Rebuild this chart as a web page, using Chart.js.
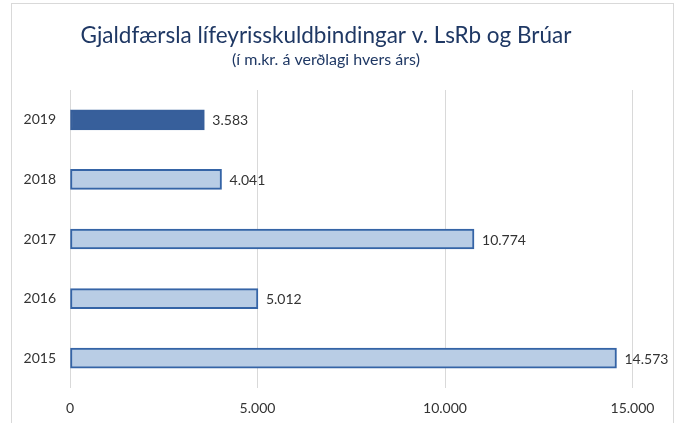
<!DOCTYPE html>
<html>
<head>
<meta charset="utf-8">
<script src="https://cdn.jsdelivr.net/npm/chart.js@4"></script>
<style>
  html, body { margin: 0; padding: 0; background: #fff; overflow: hidden; }
  #wrap { width: 681px; height: 423px; }
</style>
</head>
<body>
<div id="wrap"><canvas id="gjaldChart"></canvas></div>
<script>
// gögn lesin af myndinni
var years = ['2019', '2018', '2017', '2016', '2015'];
var amounts = [3583, 4041, 10774, 5012, 14573];
var tickValues = [0, 5000, 10000, 15000];

var titleText = 'Gjaldfærsla lífeyrisskuldbindingar v. LsRb og Brúar';
var subtitleText = '(í m.kr. á verðlagi hvers árs)';

// 2019 er dekkri en hin árin
var fillColors = years.map(function (y) { return y === '2019' ? '#375F9B' : '#B9CDE5'; });
var lineColors = years.map(function (y) { return y === '2019' ? '#375F9B' : '#3564A6'; });

function formatNumber(v) {
    return String(Math.round(v)).replace(/\B(?=(\d{3})+(?!\d))/g, '.');
}

// rammi utan um myndina og fyrirsagnir
var framePlugin = {
    id: 'frame',
    beforeDraw: function (chart) {
        var c = chart.ctx;
        c.save();
        c.fillStyle = '#fff';
        c.fillRect(0, 0, chart.width, chart.height);
        c.strokeStyle = '#D9D9D9';
        c.lineWidth = 1;
        c.strokeRect(11.5, 3.5, 662, 440);
        c.textAlign = 'center';
        c.textBaseline = 'middle';
        c.fillStyle = '#1F3864';
        c.font = '22.5px Lato';
        c.fillText(titleText, 326, 36);
        c.font = '16px Lato';
        c.fillText(subtitleText, 326, 60);
        c.restore();
    }
};

// tölur aftan við súlurnar
var valueLabels = {
    id: 'valueLabels',
    afterDatasetsDraw: function (chart) {
        var c = chart.ctx;
        var meta = chart.getDatasetMeta(0);
        c.save();
        c.font = '14px Lato';
        c.fillStyle = '#333333';
        c.textAlign = 'left';
        c.textBaseline = 'middle';
        meta.data.forEach(function (bar, i) {
            c.fillText(formatNumber(amounts[i]), bar.x + 8, bar.y + 1);
        });
        c.restore();
    }
};

var ctx = document.getElementById('gjaldChart').getContext('2d');
var myChart = new Chart(ctx, {
    type: 'bar',
    data: {
        labels: years,
        datasets: [{
            data: amounts,
            backgroundColor: fillColors,
            borderColor: lineColors,
            borderWidth: 2,
            borderSkipped: false,
            barThickness: 20
        }]
    },
    options: {
        indexAxis: 'y',
        responsive: true,
        maintainAspectRatio: false,
        animation: false,
        layout: {
            padding: { left: 11, right: 11, top: 90, bottom: 5 }
        },
        scales: {
            x: {
                min: 0,
                max: 16000,
                afterBuildTicks: function (scale) {
                    scale.ticks = tickValues.map(function (v) { return { value: v }; });
                },
                afterFit: function (scale) { scale.height = 30; },
                grid: { color: '#D9D9D9', lineWidth: 1, drawTicks: false },
                border: { display: false },
                ticks: {
                    padding: 12,
                    color: '#333333',
                    font: { family: 'Lato', size: 14 },
                    callback: function (v) { return formatNumber(v); }
                }
            },
            y: {
                grid: { display: false, drawTicks: false },
                border: { display: false },
                afterFit: function (scale) { scale.width = 59; },
                ticks: {
                    padding: 14,
                    color: '#333333',
                    font: { family: 'Lato', size: 14 }
                }
            }
        },
        plugins: {
            legend: { display: false },
            tooltip: { enabled: false }
        }
    },
    plugins: [framePlugin, valueLabels]
});
</script>
</body>
</html>
